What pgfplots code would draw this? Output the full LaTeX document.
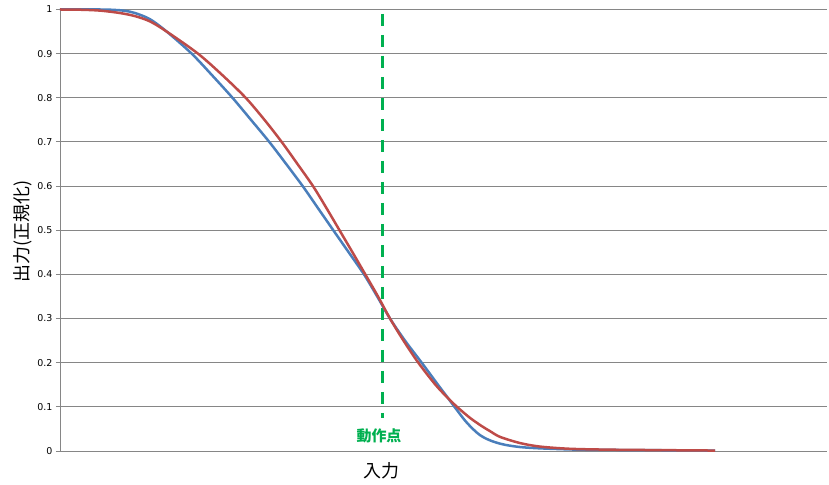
\documentclass[border=0pt]{standalone}
\usepackage{pgfplots}
\pgfplotsset{compat=1.18}
\usepackage{fontspec}
\setmainfont{DejaVu Sans}
\newfontfamily\cjk{Noto Sans CJK JP}
\definecolor{gridgray}{RGB}{134,134,134}
\definecolor{cblue}{RGB}{74,126,187}
\definecolor{cred}{RGB}{190,75,72}
\definecolor{cgreen}{RGB}{0,176,80}
\begin{document}
\begin{tikzpicture}
\path[use as bounding box] (-60bp,-34bp) rectangle (769bp,451bp);
\begin{axis}[
  at={(0,0)}, anchor=south west,
  scale only axis, width=767bp, height=441.5bp,
  xmin=0, xmax=767, ymin=0, ymax=1,
  xtick=\empty,
  ytick={0,0.1,0.2,0.3,0.4,0.5,0.6,0.7,0.8,0.9,1},
  yticklabels={0,0.1,0.2,0.3,0.4,0.5,0.6,0.7,0.8,0.9,1},
  ymajorgrids,
  major grid style={draw=gridgray, line width=0.9bp},
  axis x line*=bottom, axis y line*=left,
  axis line style={draw=gridgray, line width=0.9bp},
  tick align=outside, major tick length=4bp,
  tick style={draw=gridgray, line width=0.9bp},
  tick label style={font=\fontsize{9.5}{10}\selectfont, text=black},
  /pgf/number format/assume math mode=true,
  xlabel={\cjk 入力},
  xlabel style={at={(axis description cs:0.4194,-0.0442)}, anchor=center, font=\fontsize{18}{20}\selectfont},
  ylabel={\cjk 出力(正規化)},
  ylabel style={at={(axis description cs:-0.0489,0.497)}, anchor=center, rotate=0, font=\fontsize{18}{20}\selectfont},
  clip=false,
]
\addplot[cgreen, line width=3bp, dash pattern=on 12bp off 9bp] coordinates {(322,0.99) (322,0.075)};
\addplot[cblue, line width=2.5bp, smooth, tension=0.5] coordinates {
(0,1.0) (40,1.0) (55,0.999) (65,0.997) (75,0.992) (90,0.978) (106.7,0.95) (131.7,0.9)
(152.5,0.85) (172.5,0.8) (191,0.75) (209.3,0.7) (226.2,0.65) (242.7,0.6) (258,0.55)
(273.3,0.5) (288.7,0.45) (304,0.4) (317.2,0.35) (330,0.3) (345,0.25) (361.7,0.2) (378,0.15)
(388.3,0.119) (394.5,0.1) (405,0.069) (413.3,0.049) (420,0.036) (427,0.027) (435,0.02)
(445,0.014) (460,0.009) (480,0.006) (520,0.003) (580,0.002) (655,0.001)};
\addplot[cred, line width=2.5bp, smooth, tension=0.5] coordinates {
(0,1.0) (20,0.9995) (40,0.9975) (60,0.992) (75,0.985) (90,0.973) (106.7,0.95) (138,0.9)
(163,0.85) (185.7,0.8) (204.5,0.75) (221.7,0.7) (237.5,0.65) (253,0.6) (266.5,0.55)
(279.5,0.5) (292.5,0.45) (305.3,0.4) (318,0.35) (330,0.3) (343.5,0.25) (358.3,0.2) (375.5,0.15)
(388.3,0.119) (397,0.1) (410,0.075) (422,0.056) (430,0.045) (440,0.032) (460,0.018)
(480,0.01) (510,0.005) (550,0.003) (600,0.002) (655,0.001)};
\node[text=cgreen, font=\fontsize{15}{16}\selectfont\cjk\bfseries] at (axis cs:319,0.035) {動作点};
\end{axis}
\end{tikzpicture}
\end{document}
